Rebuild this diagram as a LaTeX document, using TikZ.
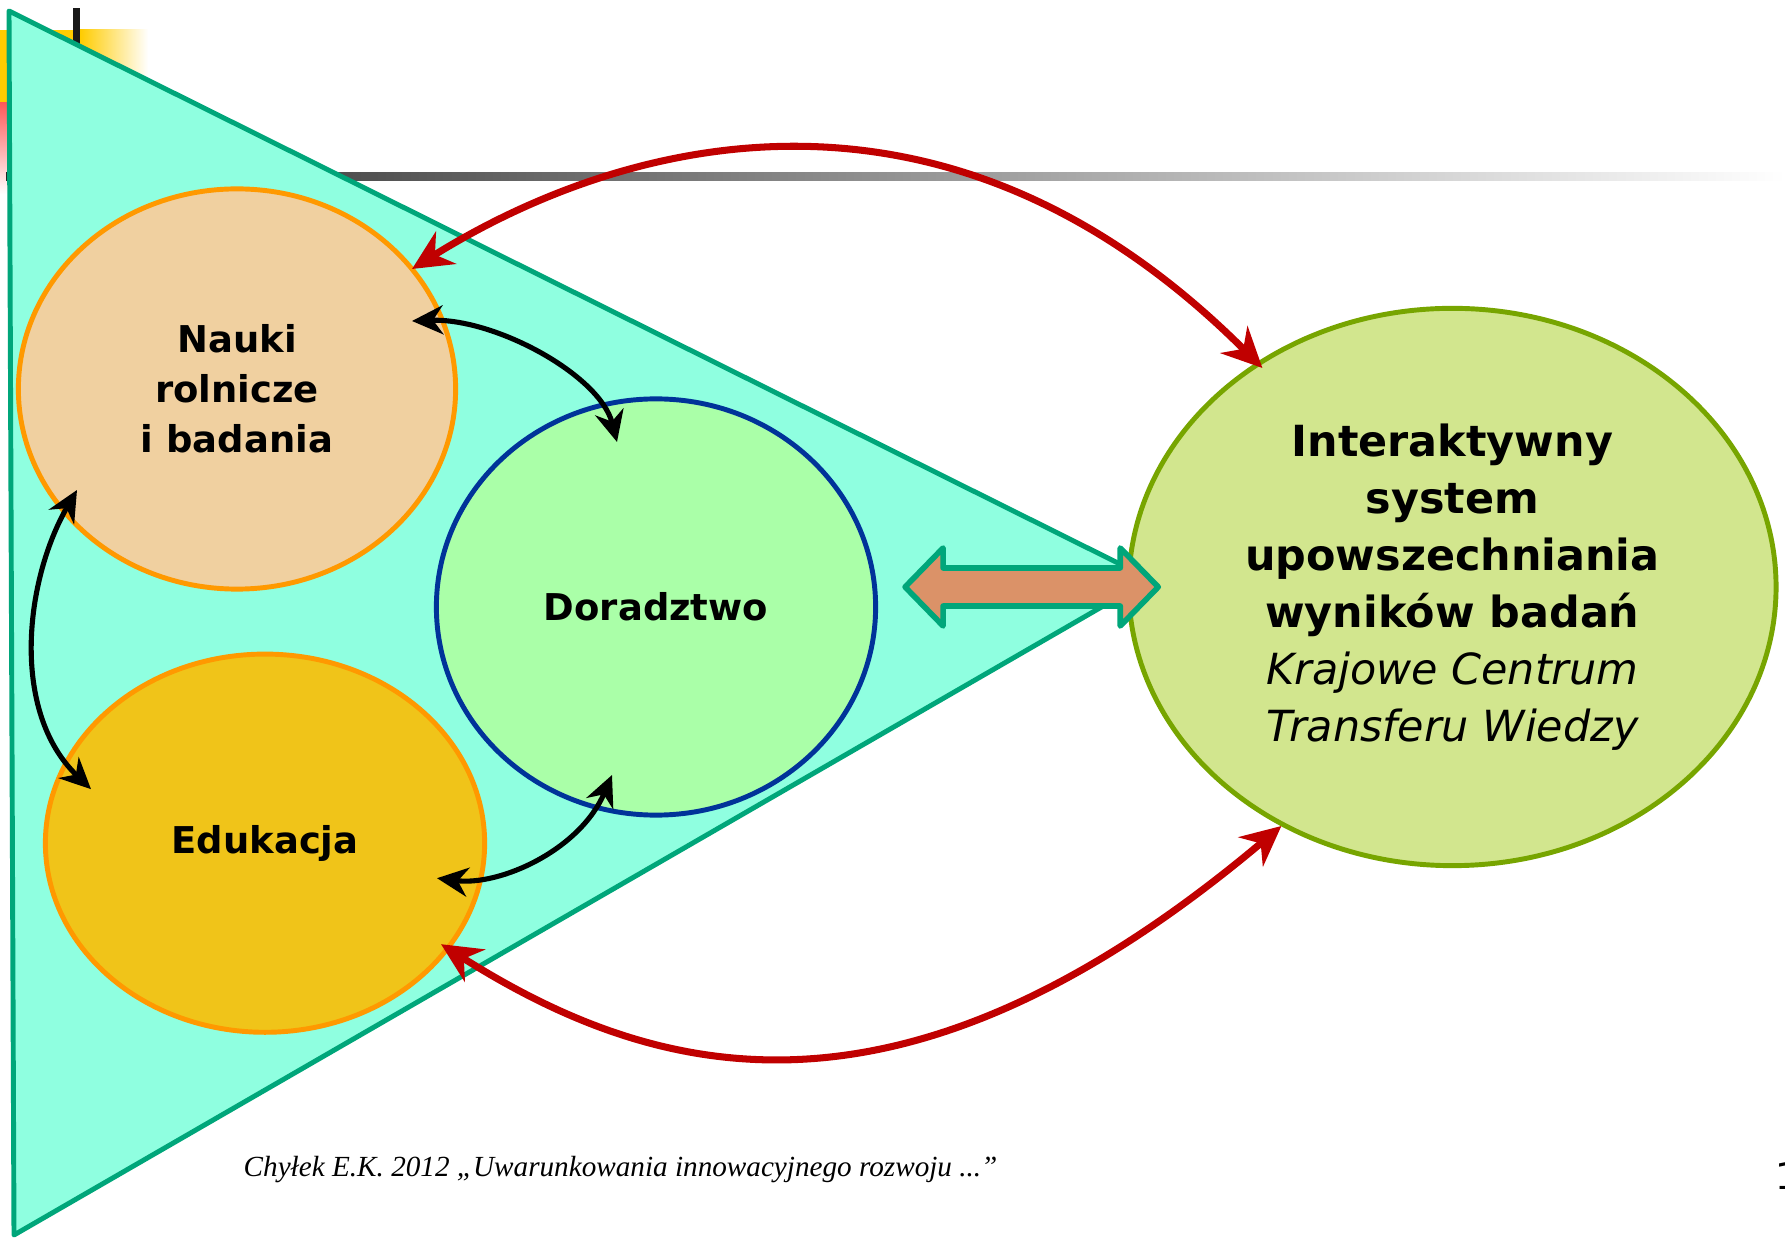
\documentclass[tikz,border=0pt]{standalone}
\usepackage{fontspec}
\setmainfont{DejaVu Sans}
\newfontfamily\citefont{Liberation Serif}
\usepackage{xcolor}
\usetikzlibrary{shapes, arrows.meta, positioning, calc}

\definecolor{triFill}{HTML}{8FFFE0}
\definecolor{triLine}{HTML}{00A67A}
\definecolor{sciFill}{HTML}{F0D0A0}
\definecolor{eduFill}{HTML}{F0C419}
\definecolor{ringOrange}{HTML}{FF9900}
\definecolor{advFill}{HTML}{AAFFA8}
\definecolor{advLine}{HTML}{003399}
\definecolor{hubFill}{HTML}{D2E68E}
\definecolor{hubLine}{HTML}{77A500}
\definecolor{bridgeFill}{HTML}{DB9268}
\definecolor{redLink}{HTML}{C00000}
\definecolor{decoYellow}{HTML}{FFCC00}
\definecolor{decoRed}{HTML}{FF5A5A}

\begin{document}
\begin{tikzpicture}[
        x=0.01cm, y=-0.01cm,
        field/.style={ellipse, draw, line width=1.4pt, align=center, inner sep=0pt, font=\bfseries\fontsize{10.5pt}{14.2pt}\selectfont},
        science/.style={field, fill=sciFill, draw=ringOrange, minimum width=4.37cm, minimum height=4cm},
        school/.style={field, fill=eduFill, draw=ringOrange, minimum width=4.39cm, minimum height=3.78cm},
        advice/.style={field, fill=advFill, draw=advLine, minimum width=4.39cm, minimum height=4.16cm},
        hub/.style={field, fill=hubFill, draw=hubLine, minimum width=6.47cm, minimum height=5.57cm, font=\bfseries\fontsize{12.2pt}{16.2pt}\selectfont},
        twoway/.style={line width=1.45pt, >={Stealth[length=0.31cm, width=0.29cm, inset=0.1cm]}, <->},
        redway/.style={twoway, draw=redLink, line width=2pt, >={Stealth[length=0.4cm, width=0.38cm, inset=0.13cm]}},
        bridge/.style={fill=bridgeFill, draw=triLine, line width=1.6pt, line join=round}
    ]
        \useasboundingbox (0,0) rectangle (1785,1240);

        % Slide decoration
        \fill[decoYellow] (0,30) rectangle (80,103);
        \shade[left color=decoYellow, right color=white] (80,30) rectangle (148,103);
        \shade[top color=decoRed, bottom color=white] (0,103) rectangle (60,194);
        \fill[black!90] (73,8) rectangle (80,60);
        \shade[left color=black!85, right color=white] (6,173) rectangle (1785,181);

        % Triangle
        \draw[fill=triFill, draw=triLine, line width=1.4pt, line join=round] (9,11) -- (1150,579) -- (14,1235) -- cycle;

        % Fields
        \node[science] (nauki) at (237,389) {Nauki\\rolnicze\\i badania};
        \node[school, below=0.6cm of nauki, xshift=0.28cm] (edu) {Edukacja};
        \node[advice] (dor) at (656,607) {Doradztwo};
        \node[hub, right=2.48cm of dor, yshift=0.2cm] (kctw) {Interaktywny\\system\\upowszechniania\\wyników badań\\{\mdseries\itshape Krajowe Centrum}\\{\mdseries\itshape Transferu Wiedzy}};

        % Bridge arrow
        \coordinate (la) at ($(dor.east |- kctw.center)+(27,0)$);
        \coordinate (ra) at ($(kctw.west)+(32,0)$);
        \draw[bridge] (la) -- ++(38,-39) -- ++(0,20) -- ($(ra)+(-38,-19)$) -- ++(0,-20) -- (ra) -- ++(-38,39) -- ++(0,-20) -- ($(la)+(38,19)$) -- ++(0,20) -- cycle;

        % Connections
        \draw[twoway] ([shift={(175,-68)}]nauki.center) .. controls +(83,-3) and +(-17,-67) .. ([shift={(-39,-165)}]dor.center);
        \draw[twoway] ([shift={(-160,101)}]nauki.center) .. controls +(-52,90) and +(-81,-78) .. ([shift={(-174,-54)}]edu.center);
        \draw[twoway] ([shift={(172,35)}]edu.center) .. controls +(63,8) and +(-32,75) .. ([shift={(-44,168)}]dor.center);
        \draw[redway] ([shift={(175,-120)}]nauki.center) .. controls +(192,-120) and +(-329,-329) .. ([shift={(-190,-219)}]kctw.center);
        \draw[redway] ([shift={(176,101)}]edu.center) .. controls +(217,137) and +(-378,318) .. ([shift={(-171,239)}]kctw.center);

        % Footer
        \node[anchor=base west, inner sep=0pt, font=\citefont\itshape\fontsize{8.3pt}{10pt}\selectfont] (cite) at (243,1176) {Chyłek E.K. 2012 „Uwarunkowania innowacyjnego rozwoju ...”};
        \node[anchor=base west, inner sep=0pt, font=\fontsize{10.5pt}{12pt}\selectfont] (pagenum) at (1775,1189) {1};

    \end{tikzpicture}
\end{document}
